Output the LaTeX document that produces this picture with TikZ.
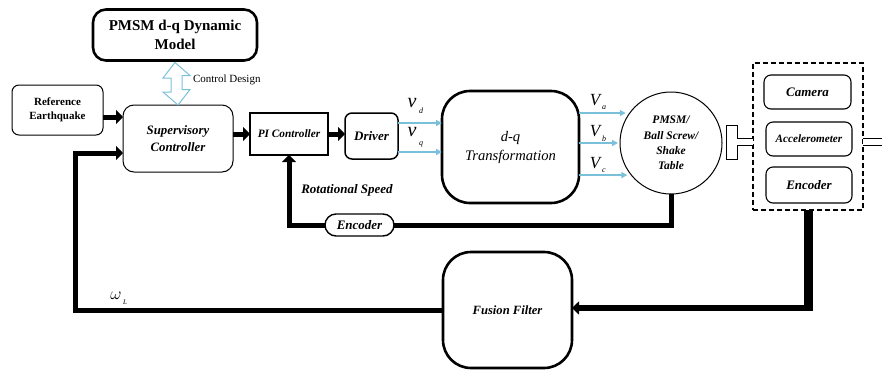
\documentclass[tikz,border=0pt]{standalone}
\usepackage{fontspec}
\setmainfont{Liberation Serif}
\usetikzlibrary{arrows.meta,calc}
\definecolor{sigblue}{RGB}{122,192,218}
\begin{document}
\begin{tikzpicture}[x=1pt,y=-1pt,
  every node/.style={inner sep=0pt,outer sep=0pt},
  blk/.style={draw,line width=1pt,rounded corners=7pt,align=center,font=\bfseries\itshape\fontsize{13}{16}\selectfont},
  heavyblk/.style={blk,line width=2.6pt},
  fat/.style={line width=5pt},
  fatarrow/.style={line width=5pt,-{Triangle[length=7pt,width=14pt]}},
  sig/.style={sigblue,line width=1.4pt,-{Triangle[length=6pt,width=6pt]}},
  lbl/.style={font=\bfseries\itshape\fontsize{13}{16}\selectfont},
  bigv/.style={font=\itshape\fontsize{20}{20}\selectfont},
  capv/.style={font=\itshape\fontsize{17}{17}\selectfont},
  subs/.style={font=\itshape\fontsize{8}{8}\selectfont}
]
\useasboundingbox (0,0) rectangle (882,370);

% blocks
\node[heavyblk,rounded corners=13pt,minimum width=164pt,minimum height=51pt,
      font=\bfseries\fontsize{15}{19}\selectfont] (model) at (175,35) {PMSM d-q Dynamic\\Model};
\node[blk,minimum width=91pt,minimum height=50pt,rounded corners=7pt,
      font=\bfseries\fontsize{11}{14}\selectfont] (refeq) at (57.5,110) {Reference\\Earthquake};
\node[blk,minimum width=110pt,minimum height=67pt,rounded corners=11pt,
      font=\bfseries\itshape\fontsize{12.8}{17}\selectfont] (sup) at (178,138.5) {Supervisory\\Controller};
\node[heavyblk,rounded corners=0pt,minimum width=78pt,minimum height=42pt,
      font=\bfseries\itshape\fontsize{11.3}{13}\selectfont] (pi) at (289,134) {PI Controller};
\node[blk,line width=1.5pt,minimum width=53pt,minimum height=46pt] (drv) at (371.5,136) {Driver};
\node[heavyblk,rounded corners=28pt,minimum width=137pt,minimum height=112pt,
      font=\itshape\fontsize{14.6}{19}\selectfont] (dq) at (510.5,147) {d-q\\Transformation};
\node[draw,circle,line width=1pt,minimum size=102pt,align=center,
      font=\bfseries\itshape\fontsize{11.5}{15.3}\selectfont] (pmsm) at (671,143) {PMSM/\\Ball Screw/\\Shake\\Table};
\node[draw,line width=1pt,minimum width=11pt,minimum height=34pt] (conn) at (731.5,142) {};

% sensor group
\node[draw,dashed,line width=1.2pt,dash pattern=on 5pt off 3pt,minimum width=110pt,minimum height=147pt] (sens) at (808,136.5) {};
\node[blk,line width=1.1pt,minimum width=87pt,minimum height=34pt] (cam) at (807.5,92) {Camera};
\node[blk,line width=1.1pt,minimum width=86pt,minimum height=34pt,font=\bfseries\itshape\fontsize{11.2}{13}\selectfont] (acc) at (809,139) {Accelerometer};
\node[blk,line width=1.1pt,minimum width=86pt,minimum height=36pt] (enc) at (809,185) {Encoder};

\node[blk,line width=1.4pt,rounded corners=11pt,minimum width=69pt,minimum height=22pt,fill=white] (encfb) at (359.5,225) {Encoder};
\node[heavyblk,rounded corners=28pt,minimum width=129pt,minimum height=116pt,
      font=\bfseries\itshape\fontsize{12.6}{15}\selectfont] (fus) at (507.5,310) {Fusion Filter};

% control design link
\draw[sigblue,line width=1pt,line join=miter]
  ($(model.south)+(0,2)$) -- ++(15,13) -- ++(-8,0) -- ++(0,14) -- ++(8,0)
  -- (sup.north) -- ++(-15,-13) -- ++(8,0) -- ++(0,-14) -- ++(-8,0) -- cycle;
\node[font=\fontsize{11}{13}\selectfont,anchor=west] (cdl) at (193,80) {Control Design};

% forward path
\draw[fatarrow] (refeq.east |- 0,117) -- (sup.west |- 0,117);
\draw[fatarrow] (sup.east |- pi.west) -- (pi.west);
\draw[fatarrow] (pi.east) -- (drv.west |- pi.east);
\draw[sig] (drv.east |- 0,123) -- (dq.west |- 0,123);
\draw[sig] (drv.east |- 0,152) -- (dq.west |- 0,152);
\draw[sig,shorten >=4pt] (dq.east |- pmsm.144) -- (pmsm.144);
\draw[sig,shorten >=2pt] (dq.east |- pmsm.west) -- (pmsm.west);
\draw[sig,shorten >=4pt] (dq.east |- pmsm.219) -- (pmsm.219);

\node[bigv] (vd) at (412,103) {v};
\node[subs] (vds) at (421,111) {d};
\node[bigv] (vq) at (412,132) {v};
\node[subs] (vqs) at (421,144) {q};
\node[capv] (va) at (595,100) {V};
\node[subs] (vas) at (604,108) {a};
\node[capv] (vb) at (595,131) {V};
\node[subs] (vbs) at (604,139) {b};
\node[capv] (vc) at (595,163) {V};
\node[subs] (vcs) at (604,171) {c};

% shaft
\draw[double,line width=1pt,double distance=6pt] (conn.east) -- (sens.west |- conn.east);
\coordinate (shaftend) at (882,142);
\draw[double,line width=1pt,double distance=6pt] (sens.east |- conn.east) -- (shaftend);

% speed loop
\draw[fat] (pmsm.south) |- (encfb.east);
\draw[fatarrow] (encfb.west) -| (pi.south);
\node[lbl] (rs) at (347,190) {Rotational Speed};

% sensor fusion loop
\draw[line width=9pt] (sens.south) -- ($(sens.south |- fus.east)+(0,-2)$);
\draw[line width=5.5pt,-{Triangle[length=7pt,width=13pt]}] ($(sens.south |- fus.east)+(4.5,-2)$) -- ($(fus.east)+(0,-2)$);
\coordinate (fbx) at (75,0);
\draw[fatarrow] (fus.west) -- (fus.west -| fbx) |- (sup.west |- 0,153);
\node[font=\fontsize{17}{17}\selectfont] (wl) at (116,296) {$\omega$};
\node[subs,font=\itshape\fontsize{7}{7}\selectfont] (wls) at (125,302) {L};
\end{tikzpicture}
\end{document}
